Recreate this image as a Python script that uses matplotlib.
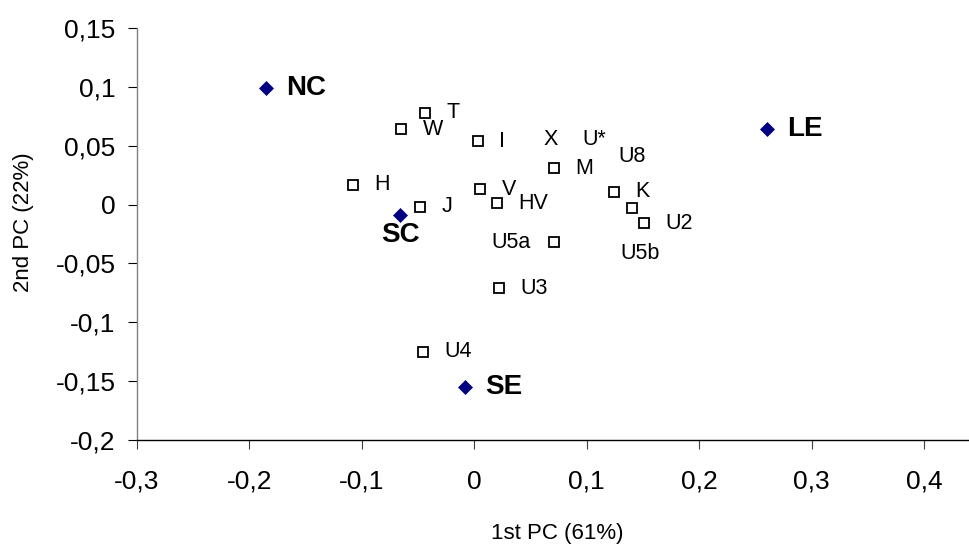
import matplotlib
matplotlib.use("Agg")
import matplotlib.pyplot as plt
from matplotlib.ticker import FuncFormatter, MultipleLocator

plt.rcParams['font.family'] = ['Liberation Sans', 'DejaVu Sans']

# regional groups (filled diamonds)
region_names = ["NC", "SC", "SE", "LE"]
region_pc1 = [-0.185, -0.066, -0.008, 0.260]
region_pc2 = [0.099, -0.009, -0.155, 0.064]

# haplogroups (open squares)
hap_names = ["T", "W", "I", "M", "H", "V", "HV", "K", "U5b", "U2", "J", "U5a", "U3", "U4"]
hap_pc1 = [-0.044, -0.065, 0.003, 0.071, -0.108, 0.005, 0.020, 0.124, 0.140, 0.151, -0.048, 0.071, 0.022, -0.046]
hap_pc2 = [0.078, 0.064, 0.054, 0.031, 0.017, 0.013, 0.001, 0.011, -0.003, -0.016, -0.002, -0.032, -0.071, -0.125]

# labels that were dragged away from their points in the original
loose_names = ["X", "U*", "U8"]
loose_pc1 = [0.068, 0.107, 0.140]
loose_pc2 = [0.055, 0.055, 0.041]

W, H = 969, 546
fig = plt.figure(figsize=(W / 100, H / 100), dpi=100)
ax = fig.add_axes([137 / W, 1 - 440 / H, (W - 137) / W, 412 / H])

ax.plot(hap_pc1, hap_pc2, 's', ms=7.3, mfc='white', mec='black', mew=1.3, ls='none', zorder=3)
ax.plot(region_pc1, region_pc2, 'D', ms=7.6, mfc='#000080', mec='#000080', mew=0.5, ls='none', zorder=3)

# label offsets in points (dx, dy, ha)
special = {"U5a": (-17, 0, 'right'), "U5b": (6, -33, 'center')}
for name, x, y in zip(hap_names, hap_pc1, hap_pc2):
    dx, dy, ha = special.get(name, (15.5, 0, 'left'))
    ax.annotate(name, (x, y), xytext=(dx, dy), textcoords='offset points',
                ha=ha, va='center', fontsize=15.5)

for name, x, y in zip(region_names, region_pc1, region_pc2):
    if name == "SC":
        dx, dy, ha = 0, -14, 'center'
    else:
        dx, dy, ha = 14.5, 0, 'left'
    ax.annotate(name, (x, y), xytext=(dx, dy), textcoords='offset points',
                ha=ha, va='center', fontsize=20, fontweight='bold')

for name, x, y in zip(loose_names, loose_pc1, loose_pc2):
    ax.text(x, y, name, ha='center', va='center', fontsize=15.5)

ax.set_xlim(-0.3, 0.44)
ax.set_ylim(-0.2, 0.15)
ax.xaxis.set_major_locator(MultipleLocator(0.1))
ax.yaxis.set_major_locator(MultipleLocator(0.05))


def comma(v, pos):
    s = f"{round(v, 3):g}"
    if s == "-0":
        s = "0"
    return s.replace('.', ',')


ax.xaxis.set_major_formatter(FuncFormatter(comma))
ax.yaxis.set_major_formatter(FuncFormatter(comma))

for side in ['top', 'right']:
    ax.spines[side].set_visible(False)
ax.spines['left'].set_color('#808080')
ax.spines['left'].set_linewidth(1.0)
ax.spines['bottom'].set_color('black')
ax.spines['bottom'].set_linewidth(1.0)
ax.tick_params(axis='x', direction='out', length=6.5, width=0.8, color='#404040', pad=15, labelsize=19)
ax.tick_params(axis='y', direction='out', length=6.5, width=0.8, color='black', pad=9, labelsize=19)

fig.text(557 / W, 1 - 533 / H, "1st PC (61%)", ha='center', va='center', fontsize=16)
fig.text(24 / W, 1 - 222 / H, "2nd PC (22%)", ha='center', va='center', rotation=90, fontsize=16)

fig.savefig("out.png", dpi=100)
